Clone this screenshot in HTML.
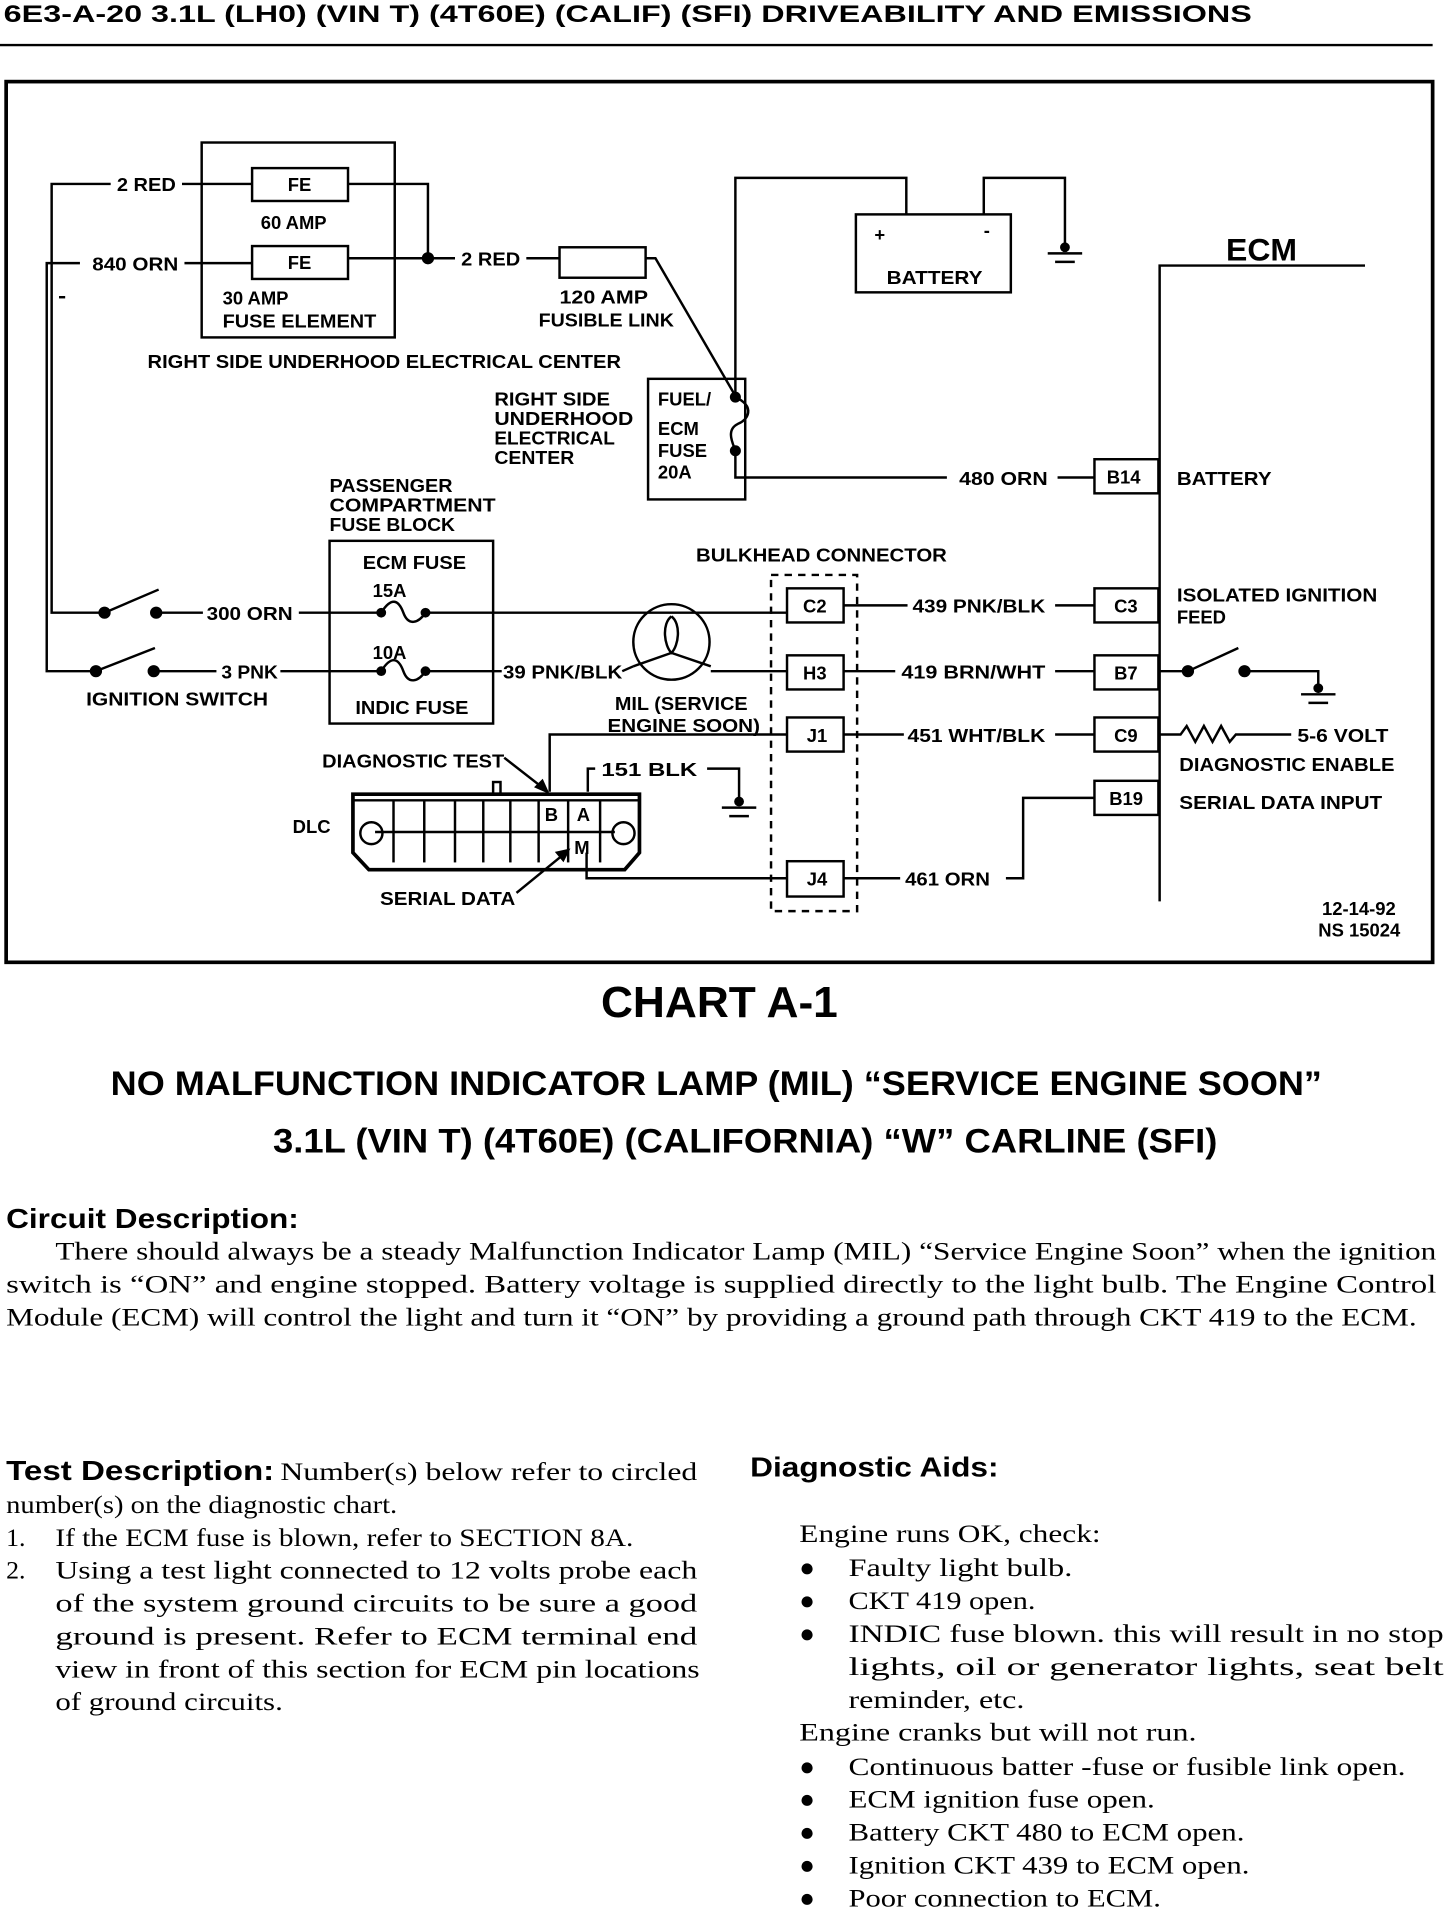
<!DOCTYPE html>
<html><head><meta charset="utf-8"><style>
html,body{margin:0;padding:0;background:#fff}
svg{display:block}
.d{font-family:"Liberation Sans",sans-serif;font-weight:bold;font-size:15px;fill:#000}
.s{font-family:"Liberation Serif",serif;font-size:21px;fill:#000}
.h{font-family:"Liberation Sans",sans-serif;fill:#000}
line,polyline,path,rect,circle,ellipse{stroke:#000;stroke-width:2;fill:none}
.dot{fill:#000}
</style></head><body>
<svg width="1456" height="1910" viewBox="0 0 1184 1568" preserveAspectRatio="none" xmlns="http://www.w3.org/2000/svg">
<text class="h" x="3" y="18" font-size="20" font-weight="bold" textLength="1015" lengthAdjust="spacingAndGlyphs">6E3-A-20  3.1L (LH0) (VIN T) (4T60E) (CALIF) (SFI)  DRIVEABILITY AND EMISSIONS</text>
<line x1="0" y1="37" x2="1165" y2="37"/>
<rect x="5" y="67" width="1160" height="723" style="stroke-width:3"/>

<rect x="164" y="117" width="157" height="160"/>
<polyline points="90,151 42,151 42,503 85,503"/>
<text class="d" x="95" y="157" textLength="48" lengthAdjust="spacingAndGlyphs">2 RED</text>
<line x1="148" y1="151" x2="205" y2="151"/>
<rect x="205" y="138" width="78" height="27"/>
<text class="d" x="234" y="157">FE</text>
<polyline points="283,151 348,151 348,212"/>
<text class="d" x="212" y="188">60 AMP</text>
<polyline points="65,216 38,216 38,551 78,551"/>
<text class="d" x="75" y="222" textLength="70" lengthAdjust="spacingAndGlyphs">840 ORN</text>
<line x1="150" y1="216" x2="205" y2="216"/>
<rect x="205" y="202" width="78" height="27"/>
<text class="d" x="234" y="221">FE</text>
<line x1="283" y1="212" x2="370" y2="212"/>
<circle class="dot" cx="348" cy="212" r="4"/>
<line x1="48" y1="244" x2="53" y2="244"/>
<text class="d" x="181" y="250">30 AMP</text>
<text class="d" x="181" y="269" textLength="125" lengthAdjust="spacingAndGlyphs">FUSE ELEMENT</text>
<text class="d" x="375" y="218" textLength="48" lengthAdjust="spacingAndGlyphs">2 RED</text>
<line x1="428" y1="212" x2="455" y2="212"/>
<rect x="455" y="203" width="70" height="25"/>
<polyline points="525,212 533,212 598,325"/>
<text class="d" x="455" y="249" textLength="72" lengthAdjust="spacingAndGlyphs">120 AMP</text>
<text class="d" x="438" y="268" textLength="110" lengthAdjust="spacingAndGlyphs">FUSIBLE LINK</text>
<text class="d" x="120" y="302" textLength="385" lengthAdjust="spacingAndGlyphs">RIGHT SIDE UNDERHOOD ELECTRICAL CENTER</text>

<rect x="696" y="176" width="126" height="64"/>
<text class="d" x="711" y="198" font-size="18" font-weight="normal">+</text>
<text class="d" x="800" y="194">-</text>
<text class="d" x="721" y="233" textLength="78" lengthAdjust="spacingAndGlyphs">BATTERY</text>
<polyline points="737,176 737,146 598,146 598,325"/>
<polyline points="800,176 800,146 866,146 866,205"/>
<circle class="dot" cx="866" cy="203" r="3"/>
<line x1="852" y1="208" x2="880" y2="208"/><line x1="858" y1="215" x2="874" y2="215"/>

<rect x="527" y="311" width="79" height="99"/>
<text class="d" x="535" y="333">FUEL/</text>
<text class="d" x="535" y="357">ECM</text>
<text class="d" x="535" y="375">FUSE</text>
<text class="d" x="535" y="393">20A</text>
<circle class="dot" cx="598" cy="326" r="3.5"/><circle class="dot" cx="598" cy="370" r="3.5"/>
<path d="M598,326 C615,334 608,345 600,348 C590,353 596,364 598,370"/>
<polyline points="598,370 598,392 770,392"/>
<text class="d" x="402" y="333" textLength="94" lengthAdjust="spacingAndGlyphs">RIGHT SIDE</text>
<text class="d" x="402" y="349" textLength="113" lengthAdjust="spacingAndGlyphs">UNDERHOOD</text>
<text class="d" x="402" y="365" textLength="98" lengthAdjust="spacingAndGlyphs">ELECTRICAL</text>
<text class="d" x="402" y="381" textLength="65" lengthAdjust="spacingAndGlyphs">CENTER</text>
<text class="d" x="780" y="398" textLength="72" lengthAdjust="spacingAndGlyphs">480 ORN</text>
<line x1="860" y1="392" x2="890" y2="392"/>

<polyline points="943,740 943,218 1110,218"/>
<text class="h" x="997" y="214" font-size="26" font-weight="bold">ECM</text>
<rect x="890" y="377" width="52" height="28"/><text class="d" x="900" y="397">B14</text>
<text class="d" x="957" y="398" textLength="77" lengthAdjust="spacingAndGlyphs">BATTERY</text>

<text class="d" x="268" y="404" textLength="100" lengthAdjust="spacingAndGlyphs">PASSENGER</text>
<text class="d" x="268" y="420" textLength="135" lengthAdjust="spacingAndGlyphs">COMPARTMENT</text>
<text class="d" x="268" y="436" textLength="102" lengthAdjust="spacingAndGlyphs">FUSE BLOCK</text>
<rect x="268" y="444" width="133" height="150"/>
<text class="d" x="295" y="467" textLength="84" lengthAdjust="spacingAndGlyphs">ECM FUSE</text>
<text class="d" x="303" y="490">15A</text>
<text class="d" x="303" y="541">10A</text>
<text class="d" x="289" y="586" textLength="92" lengthAdjust="spacingAndGlyphs">INDIC FUSE</text>
<circle class="dot" cx="310" cy="503" r="3"/><circle class="dot" cx="346" cy="503" r="3"/>
<path d="M310,503 C318,490 324,492 328,503 C332,514 340,512 346,503"/>
<circle class="dot" cx="310" cy="551" r="3"/><circle class="dot" cx="346" cy="551" r="3"/>
<path d="M310,551 C318,538 324,540 328,551 C332,562 340,560 346,551"/>

<circle class="dot" cx="85" cy="503" r="4"/><line x1="85" y1="503" x2="129" y2="484"/>
<circle class="dot" cx="127" cy="503" r="4"/><line x1="127" y1="503" x2="165" y2="503"/>
<text class="d" x="168" y="509" textLength="70" lengthAdjust="spacingAndGlyphs">300 ORN</text>
<line x1="243" y1="503" x2="310" y2="503"/>
<line x1="346" y1="503" x2="640" y2="503"/>
<circle class="dot" cx="78" cy="551" r="4"/><line x1="78" y1="551" x2="126" y2="532"/>
<circle class="dot" cx="125" cy="551" r="4"/><line x1="125" y1="551" x2="176" y2="551"/>
<text class="d" x="180" y="557" textLength="46" lengthAdjust="spacingAndGlyphs">3 PNK</text>
<line x1="228" y1="551" x2="310" y2="551"/>
<line x1="346" y1="551" x2="408" y2="551"/>
<text class="d" x="70" y="579" textLength="148" lengthAdjust="spacingAndGlyphs">IGNITION SWITCH</text>
<text class="d" x="409" y="557" textLength="97" lengthAdjust="spacingAndGlyphs">39 PNK/BLK</text>
<ellipse cx="546" cy="527" rx="31" ry="31"/>
<path d="M546,506 C538,512 540,530 546,536 C552,530 554,512 546,506 M546,536 L515,547 M546,536 L578,547"/>
<line x1="506" y1="551" x2="515" y2="547"/>
<line x1="578" y1="551" x2="640" y2="551"/>
<text class="d" x="500" y="583" textLength="108" lengthAdjust="spacingAndGlyphs">MIL (SERVICE</text>
<text class="d" x="494" y="601" textLength="124" lengthAdjust="spacingAndGlyphs">ENGINE SOON)</text>

<text class="d" x="566" y="461" textLength="204" lengthAdjust="spacingAndGlyphs">BULKHEAD CONNECTOR</text>
<rect x="627" y="472" width="70" height="276" style="stroke-dasharray:6,5"/>
<rect x="640" y="483" width="46" height="28" style="fill:#fff"/><text class="d" x="653" y="503">C2</text>
<rect x="640" y="538" width="46" height="28" style="fill:#fff"/><text class="d" x="653" y="558">H3</text>
<rect x="640" y="589" width="46" height="28" style="fill:#fff"/><text class="d" x="656" y="609">J1</text>
<rect x="640" y="707" width="46" height="29" style="fill:#fff"/><text class="d" x="656" y="727">J4</text>

<line x1="686" y1="497" x2="738" y2="497"/>
<text class="d" x="742" y="503" textLength="108" lengthAdjust="spacingAndGlyphs">439 PNK/BLK</text>
<line x1="858" y1="497" x2="890" y2="497"/>
<rect x="890" y="483" width="52" height="28"/><text class="d" x="906" y="503">C3</text>
<text class="d" x="957" y="494" textLength="163" lengthAdjust="spacingAndGlyphs">ISOLATED IGNITION</text>
<text class="d" x="957" y="512">FEED</text>

<line x1="686" y1="551" x2="728" y2="551"/>
<text class="d" x="733" y="557" textLength="117" lengthAdjust="spacingAndGlyphs">419 BRN/WHT</text>
<line x1="858" y1="551" x2="890" y2="551"/>
<rect x="890" y="538" width="52" height="28"/><text class="d" x="906" y="558">B7</text>
<line x1="943" y1="551" x2="966" y2="551"/>
<circle class="dot" cx="966" cy="551" r="4"/><line x1="966" y1="551" x2="1007" y2="532"/>
<circle class="dot" cx="1012" cy="551" r="4"/>
<polyline points="1012,551 1072,551 1072,566"/>
<circle class="dot" cx="1072" cy="565" r="3"/>
<line x1="1058" y1="570" x2="1086" y2="570"/><line x1="1064" y1="577" x2="1080" y2="577"/>

<line x1="686" y1="603" x2="735" y2="603"/>
<text class="d" x="738" y="609" textLength="112" lengthAdjust="spacingAndGlyphs">451 WHT/BLK</text>
<line x1="858" y1="603" x2="890" y2="603"/>
<rect x="890" y="589" width="52" height="28"/><text class="d" x="906" y="609">C9</text>
<polyline points="943,603 960,603 965,596 972,609 979,596 986,609 993,596 1000,609 1005,603 1050,603"/>
<text class="d" x="1055" y="609" textLength="74" lengthAdjust="spacingAndGlyphs">5-6 VOLT</text>
<text class="d" x="959" y="633" textLength="175" lengthAdjust="spacingAndGlyphs">DIAGNOSTIC ENABLE</text>
<rect x="890" y="641" width="52" height="28"/><text class="d" x="902" y="661">B19</text>
<text class="d" x="959" y="664" textLength="165" lengthAdjust="spacingAndGlyphs">SERIAL DATA INPUT</text>
<polyline points="890,655 832,655 832,721 818,721"/>
<text class="d" x="736" y="727" textLength="69" lengthAdjust="spacingAndGlyphs">461 ORN</text>
<line x1="686" y1="721" x2="732" y2="721"/>

<polyline points="640,603 447,603 447,650"/>
<polyline points="478,650 478,631 484,631"/>
<text class="d" x="489" y="637" textLength="78" lengthAdjust="spacingAndGlyphs">151 BLK</text>
<polyline points="575,631 601,631 601,658"/>
<circle class="dot" cx="601" cy="658" r="3"/>
<line x1="587" y1="663" x2="615" y2="663"/><line x1="593" y1="670" x2="609" y2="670"/>
<polyline points="477,700 477,721 640,721"/>
<text class="d" x="262" y="630" textLength="148" lengthAdjust="spacingAndGlyphs">DIAGNOSTIC TEST</text>
<line x1="410" y1="622" x2="443" y2="648"/>
<path class="dot" d="M445,650 L436,646 L441,641 Z"/>
<text class="d" x="238" y="684">DLC</text>
<text class="d" x="309" y="743" textLength="110" lengthAdjust="spacingAndGlyphs">SERIAL DATA</text>
<line x1="420" y1="733" x2="460" y2="700"/>
<path class="dot" d="M462,698 L453,700 L458,706 Z"/>
<path d="M287,652 L520,652 L520,700 L508,714 L300,714 L287,700 Z" style="stroke-width:3"/>
<line x1="287" y1="657" x2="520" y2="657"/>
<rect x="401" y="642" width="6" height="10"/>
<line x1="320" y1="657" x2="320" y2="708"/><line x1="345" y1="657" x2="345" y2="708"/>
<line x1="370" y1="657" x2="370" y2="708"/><line x1="393" y1="657" x2="393" y2="708"/>
<line x1="415" y1="657" x2="415" y2="708"/><line x1="438" y1="657" x2="438" y2="708"/>
<line x1="462" y1="657" x2="462" y2="708"/><line x1="488" y1="657" x2="488" y2="708"/>
<line x1="305" y1="683" x2="500" y2="683"/>
<circle cx="302" cy="684" r="9"/><circle cx="507" cy="684" r="9"/>
<text class="d" x="443" y="674" font-size="13">B</text>
<text class="d" x="469" y="674" font-size="13">A</text>
<text class="d" x="467" y="701" font-size="13">M</text>

<text class="d" x="1075" y="751">12-14-92</text>
<text class="d" x="1072" y="769">NS 15024</text>

<text class="h" x="585" y="835" font-size="36" font-weight="bold" text-anchor="middle">CHART A-1</text>
<text class="h" x="90" y="899" font-size="28" font-weight="bold" textLength="985" lengthAdjust="spacingAndGlyphs">NO MALFUNCTION INDICATOR LAMP (MIL) “SERVICE ENGINE SOON”</text>
<text class="h" x="222" y="946" font-size="28" font-weight="bold" textLength="768" lengthAdjust="spacingAndGlyphs">3.1L  (VIN T)  (4T60E)  (CALIFORNIA)  “W”  CARLINE  (SFI)</text>

<text class="h" x="5" y="1008" font-size="23" font-weight="bold" textLength="238" lengthAdjust="spacingAndGlyphs">Circuit Description:</text>
<text class="s" x="45" y="1034" textLength="1123" lengthAdjust="spacingAndGlyphs">There should always be a steady Malfunction Indicator Lamp (MIL) “Service Engine Soon” when the ignition</text>
<text class="s" x="5" y="1061" textLength="1163" lengthAdjust="spacingAndGlyphs">switch is “ON” and engine stopped.  Battery voltage is supplied directly to the light bulb.  The Engine Control</text>
<text class="s" x="5" y="1088" textLength="1147" lengthAdjust="spacingAndGlyphs">Module (ECM) will control the light and turn it “ON”  by providing a ground path through CKT 419 to the ECM.</text>

<text class="h" x="5" y="1215" font-size="23" font-weight="bold" textLength="218" lengthAdjust="spacingAndGlyphs">Test Description:</text>
<text class="s" x="228" y="1215" textLength="339" lengthAdjust="spacingAndGlyphs">Number(s) below refer to circled</text>
<text class="s" x="5" y="1242" textLength="318" lengthAdjust="spacingAndGlyphs">number(s) on the diagnostic chart.</text>
<text class="s" x="5" y="1269">1.</text>
<text class="s" x="45" y="1269" textLength="470" lengthAdjust="spacingAndGlyphs">If the ECM fuse is blown, refer to SECTION 8A.</text>
<text class="s" x="5" y="1296">2.</text>
<text class="s" x="45" y="1296" textLength="522" lengthAdjust="spacingAndGlyphs">Using a test light connected to 12 volts probe each</text>
<text class="s" x="45" y="1323" textLength="522" lengthAdjust="spacingAndGlyphs">of the system ground circuits to be sure a good</text>
<text class="s" x="45" y="1350" textLength="522" lengthAdjust="spacingAndGlyphs">ground is present.  Refer to ECM terminal end</text>
<text class="s" x="45" y="1377" textLength="524" lengthAdjust="spacingAndGlyphs">view in front of this section for ECM pin locations</text>
<text class="s" x="45" y="1404" textLength="185" lengthAdjust="spacingAndGlyphs">of ground circuits.</text>

<text class="h" x="610" y="1212" font-size="23" font-weight="bold" textLength="202" lengthAdjust="spacingAndGlyphs">Diagnostic Aids:</text>
<text class="s" x="650" y="1266" textLength="245" lengthAdjust="spacingAndGlyphs">Engine runs OK, check:</text>
<text class="s" x="650" y="1294">●</text><text class="s" x="690" y="1294" textLength="182" lengthAdjust="spacingAndGlyphs">Faulty light bulb.</text>
<text class="s" x="650" y="1321">●</text><text class="s" x="690" y="1321" textLength="152" lengthAdjust="spacingAndGlyphs">CKT 419 open.</text>
<text class="s" x="650" y="1348">●</text><text class="s" x="690" y="1348" textLength="484" lengthAdjust="spacingAndGlyphs">INDIC fuse blown. this will result in no stop</text>
<text class="s" x="690" y="1375" textLength="484" lengthAdjust="spacingAndGlyphs">lights,   oil   or   generator   lights,   seat   belt</text>
<text class="s" x="690" y="1402" textLength="143" lengthAdjust="spacingAndGlyphs">reminder, etc.</text>
<text class="s" x="650" y="1429" textLength="323" lengthAdjust="spacingAndGlyphs">Engine cranks but will not run.</text>
<text class="s" x="650" y="1457">●</text><text class="s" x="690" y="1457" textLength="453" lengthAdjust="spacingAndGlyphs">Continuous batter -fuse or fusible link open.</text>
<text class="s" x="650" y="1484">●</text><text class="s" x="690" y="1484" textLength="249" lengthAdjust="spacingAndGlyphs">ECM ignition fuse open.</text>
<text class="s" x="650" y="1511">●</text><text class="s" x="690" y="1511" textLength="322" lengthAdjust="spacingAndGlyphs">Battery CKT 480 to ECM open.</text>
<text class="s" x="650" y="1538">●</text><text class="s" x="690" y="1538" textLength="326" lengthAdjust="spacingAndGlyphs">Ignition CKT 439 to ECM open.</text>
<text class="s" x="650" y="1565">●</text><text class="s" x="690" y="1565" textLength="254" lengthAdjust="spacingAndGlyphs">Poor connection to ECM.</text>
</svg>
</body></html>
